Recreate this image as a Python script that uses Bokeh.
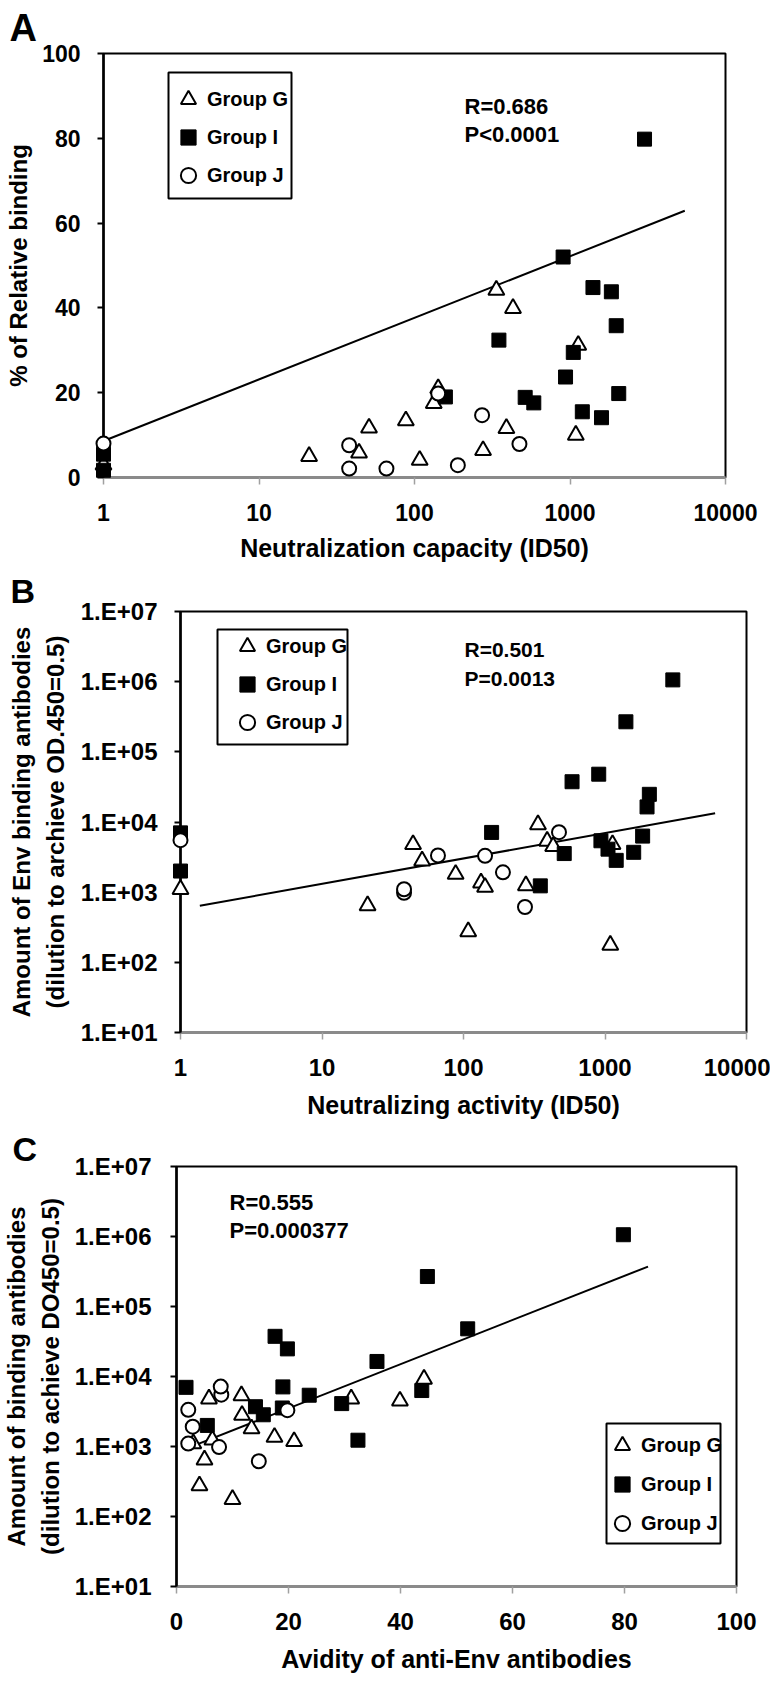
from bokeh.plotting import figure
from bokeh.models import Range1d, FixedTicker, Legend, LegendItem, Label, BoxAnnotation
from bokeh.embed import file_html
from bokeh.resources import INLINE

FONT = "Liberation Sans"

# ---------------- data (one entry per animal) ----------------
# Group G (open triangles)
g_id50 = [1, 21, 44, 51, 88, 108, 133, 142, 276, 336, 390, 430, 1090, 1130]
g_avidity = [3, 5, 5.8, 11.7, 13.4, 4.1, 17.5, 21, 6.4, 44.2, 11.6, 39.9, 10, 31.2]
g_binding = [1100, 645, 4800, 2800, 1800, 275, 1360, 1180, 1240, 9200, 5350, 4480, 176, 4800]

# Group I (filled squares)
i_id50 = [1, 1, 158, 349, 515, 585, 903, 936, 1050, 1200, 1405, 1595, 1845, 1982, 2058, 3015]
i_avidity = [1.7, 5.5, 19, 32.4, 18.9, 17.6, 52, 23.7, 29.5, 15.5, 44.8, 14.1, 43.8, 35.8, 19.8, 79.8]
i_binding = [7000, 2000, 7100, 1230, 3550, 37500, 48000, 5400, 4100, 2840, 268000, 3700, 6300,
             16400, 24800, 1060000]

# Group J (open circles)
j_id50 = [1, 38, 38, 66, 142, 190, 272, 473]
j_avidity = [8, 7.6, 2.1, 2.1, 19.8, 2.9, 14.7, 7.9]
j_binding = [5500, 980, 1100, 3340, 3300, 1920, 615, 7170]

# regression lines (end points)
fitA_x = [1, 5470]
fitA_y = [8.6, 62.9]
fitB_x = [1.37, 6000]
fitB_y = [640, 13300]
fitC_x = [3.0, 84.2]
fitC_y = [1020, 372000]

# ticks
id50_ticks = [1, 10, 100, 1000, 10000]
pct_ticks = [0, 20, 40, 60, 80, 100]
bind_ticks = [10, 100, 1000, 10000, 100000, 1000000, 10000000]
bind_labels = ["1.E+01", "1.E+02", "1.E+03", "1.E+04", "1.E+05", "1.E+06", "1.E+07"]

stats_A = ["R=0.686", "P<0.0001"]
stats_B = ["R=0.501", "P=0.0013"]
stats_C = ["R=0.555", "P=0.000377"]
groups = ["Group G", "Group I", "Group J"]

W = 770


def make_fig(height, left, right, top, bottom, x_type, y_type, xr, yr, letter, lsize, lstand, loff):
    p = figure(width=W, height=height, x_axis_type=x_type, y_axis_type=y_type,
               x_range=xr, y_range=yr, output_backend="svg", toolbar_location=None,
               min_border_left=left, min_border_right=right,
               min_border_top=top, min_border_bottom=bottom)
    p.xgrid.visible = False
    p.ygrid.visible = False
    p.outline_line_color = "black"
    p.outline_line_width = 2
    p.background_fill_color = "white"
    p.border_fill_color = "white"
    p.title.text = letter
    p.title.align = "left"
    p.title.offset = loff
    p.title.standoff = lstand
    p.title.text_font = FONT
    p.title.text_font_size = lsize
    p.title.text_font_style = "bold"
    p.title.text_color = "black"
    return p


def style_x(p, ticks, label, overrides=None, size="23px", lstandoff=12):
    ax = p.xaxis[0]
    ax.ticker = FixedTicker(ticks=ticks)
    if overrides:
        ax.major_label_overrides = overrides
    ax.axis_line_color = "#8a8a8a"
    ax.axis_line_width = 3
    ax.major_tick_line_color = "#a0a0a0"
    ax.major_tick_line_width = 1.5
    ax.major_tick_out = 7
    ax.major_tick_in = 0
    ax.minor_tick_line_color = None
    ax.major_label_text_font = FONT
    ax.major_label_text_font_size = size
    ax.major_label_text_font_style = "bold"
    ax.major_label_text_color = "black"
    ax.major_label_standoff = 19
    ax.axis_label = label
    ax.axis_label_text_font = FONT
    ax.axis_label_text_font_size = "25px"
    ax.axis_label_text_font_style = "bold"
    ax.axis_label_text_color = "black"
    ax.axis_label_standoff = lstandoff


def style_y(p, ticks, label, overrides=None, size="23px", standoff=17, lstandoff=7):
    ax = p.yaxis[0]
    ax.ticker = FixedTicker(ticks=ticks)
    if overrides:
        ax.major_label_overrides = overrides
    ax.axis_line_color = "black"
    ax.axis_line_width = 2.5
    ax.major_tick_line_color = "black"
    ax.major_tick_line_width = 2
    ax.major_tick_out = 6
    ax.major_tick_in = 0
    ax.minor_tick_line_color = None
    ax.major_label_text_font = FONT
    ax.major_label_text_font_size = size
    ax.major_label_text_font_style = "bold"
    ax.major_label_text_color = "black"
    ax.major_label_standoff = standoff
    ax.axis_label = label
    ax.axis_label_text_font = FONT
    ax.axis_label_text_font_size = "24px"
    ax.axis_label_text_font_style = "bold"
    ax.axis_label_text_color = "black"
    ax.axis_label_text_line_height = 1.25
    ax.axis_label_standoff = lstandoff


def add_points(p, gx, gy, ix, iy, jx, jy):
    rg = p.scatter(gx, gy, marker="triangle", size=16, fill_color="white",
                   line_color="black", line_width=2)
    ri = p.scatter(ix, iy, marker="square", size=14, fill_color="black",
                   line_color="black", line_width=1)
    rj = p.scatter(jx, jy, marker="circle", size=14, fill_color="white",
                   line_color="black", line_width=2)
    for r in (rg, ri, rj):
        r.level = "overlay"
    return [rg, ri, rj]


def add_legend(p, rends, box, loc, standoff=-5, spacing=0):
    l, r, t, b = box
    p.add_layout(BoxAnnotation(left=l, right=r, top=t, bottom=b,
                               left_units="screen", right_units="screen",
                               top_units="screen", bottom_units="screen",
                               fill_color="white", fill_alpha=1.0,
                               line_color="black", line_width=2, line_alpha=1.0))
    items = [LegendItem(label=g, renderers=[rr]) for g, rr in zip(groups, rends)]
    leg = Legend(items=items, location=loc, padding=0, spacing=spacing, margin=0,
                 glyph_width=38, glyph_height=38, label_height=38,
                 label_standoff=standoff, border_line_color=None,
                 background_fill_alpha=0.0,
                 label_text_font=FONT, label_text_font_size="20px",
                 label_text_font_style="bold", label_text_color="black")
    p.add_layout(leg)


def add_text(p, x, y, txt, size, baseline="middle"):
    p.add_layout(Label(x=x, y=y, x_units="screen", y_units="screen", text=txt,
                       text_font=FONT, text_font_size=size, text_font_style="bold",
                       text_color="black", text_baseline=baseline))


id50_over = {t: str(t) for t in id50_ticks}
bind_over = {t: s for t, s in zip(bind_ticks, bind_labels)}

# ---------------- panel A ----------------
pA = make_fig(568, 103, 45, 53, 91, "log", "linear", Range1d(1, 10000), Range1d(0, 100),
              "A", "38px", 9, -94)
style_x(pA, id50_ticks, "Neutralization capacity (ID50)", id50_over, lstandoff=10)
style_y(pA, pct_ticks, "% of Relative binding")
pA.line(fitA_x, fitA_y, line_color="black", line_width=2)
rA = add_points(pA, g_id50, g_avidity, i_id50, i_avidity, j_id50, j_avidity)
add_legend(pA, rA, (65, 188, 405, 279), (66, 283), standoff=-5, spacing=0)
add_text(pA, 361, 371, stats_A[0], "22px")
add_text(pA, 361, 343, stats_A[1], "22px")

# ---------------- panel B ----------------
pB = make_fig(560, 180, 24, 41, 96, "log", "log", Range1d(1, 10000), Range1d(10, 1e7),
              "B", "34px", 3, -170)
style_x(pB, id50_ticks, "Neutralizing activity (ID50)", id50_over, size="24px")
style_y(pB, bind_ticks, "Amount of Env binding antibodies\n(dilution to archieve OD.450=0.5)",
        bind_over, size="24px", standoff=17, lstandoff=9)
pB.line(fitB_x, fitB_y, line_color="black", line_width=2)
rB = add_points(pB, g_id50, g_binding, i_id50, i_binding, j_id50, j_binding)
add_legend(pB, rB, (37, 167, 403, 288), (48, 291), standoff=-7, spacing=0)
add_text(pB, 284, 383, stats_B[0], "21px")
add_text(pB, 284, 354, stats_B[1], "21px")

# ---------------- panel C ----------------
pC = make_fig(555, 171, 34, 36, 97, "linear", "log", Range1d(0, 100), Range1d(10, 1e7),
              "C", "34px", -2, -164)
style_x(pC, pct_ticks, "Avidity of anti-Env antibodies", size="24px")
style_y(pC, bind_ticks, "Amount of binding antibodies\n(dilution to achieve DO450=0.5)",
        bind_over, size="24px", standoff=19, lstandoff=8)
pC.line(fitC_x, fitC_y, line_color="black", line_width=2)
rC = add_points(pC, g_avidity, g_binding, i_avidity, i_binding, j_avidity, j_binding)
add_legend(pC, rC, (430, 544, 163, 43), (427, 44), standoff=-6, spacing=1)
add_text(pC, 53, 384, stats_C[0], "22px")
add_text(pC, 53, 356, stats_C[1], "22px")

open("out.html", "w").write(file_html([pA, pB, pC], INLINE))
